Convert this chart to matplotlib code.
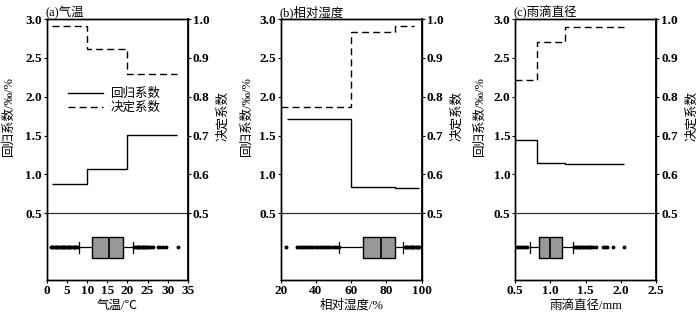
import numpy as np
import matplotlib.pyplot as plt
from matplotlib.lines import Line2D

plt.rcParams['font.family'] = ['Liberation Serif', 'Noto Sans CJK SC']
plt.rcParams['axes.unicode_minus'] = False

# step curves: bin edges and values (regression coef on left axis, R2 on right axis)
temp_edges = [1.2, 10, 20, 32.4]
temp_coef = [0.88, 1.07, 1.51]
temp_r2 = [0.983, 0.924, 0.858]

rh_coef_edges = [23.5, 60, 85, 98.3]
rh_coef = [1.71, 0.84, 0.83]
rh_r2_edges = [20.3, 60, 85, 95.5]
rh_r2 = [0.775, 0.968, 0.983]

dia_edges = [0.5, 0.81, 1.21, 2.05]
dia_coef = [1.44, 1.15, 1.13]
dia_r2 = [0.844, 0.941, 0.981]

# box plot summaries
temp_box = dict(whislo=7.9, q1=11.2, med=15.5, q3=18.8, whishi=21.4)
temp_fliers = [0.9, 1.3, 1.6, 1.9, 2.2, 2.5, 2.8, 3.1, 3.4, 3.7, 4.0, 4.3, 4.6, 4.9, 5.2, 5.5,
               5.8, 6.1, 6.4, 6.7, 7.0, 7.3, 7.6,
               21.7, 22.0, 22.3, 22.6, 22.9, 23.2, 23.5, 23.8, 24.1, 24.4, 24.7, 25.0, 25.4,
               25.8, 26.3, 27.6, 28.2, 28.8, 29.6, 32.6]
rh_box = dict(whislo=53.3, q1=66.7, med=77.1, q3=85.0, whishi=89.6)
rh_fliers = [23.2, 29.0, 30.2, 31.4, 32.6, 33.8, 35.0, 36.2, 37.4, 38.6, 39.8, 41.0, 42.2, 43.4,
             44.6, 45.8, 47.0, 48.2, 49.4, 50.6, 51.8, 52.8,
             90.3, 91.0, 91.7, 92.4, 93.1, 93.8, 94.5, 95.2, 95.9, 96.6, 97.3, 98.0, 98.6]
dia_box = dict(whislo=0.71, q1=0.84, med=1.0, q3=1.16, whishi=1.32)
dia_fliers = [0.52, 0.55, 0.58, 0.61, 0.64, 0.67,
              1.34, 1.36, 1.38, 1.40, 1.42, 1.44, 1.46, 1.48, 1.50, 1.52, 1.54, 1.56, 1.58,
              1.61, 1.64, 1.74, 1.77, 1.80, 1.89, 2.04]

titles = ['(a)气温', '(b)相对湿度', '(c)雨滴直径']
xlabels = ['气温/℃', '相对湿度/%', '雨滴直径/mm']
xlims = [(0, 35), (20, 100), (0.5, 2.5)]
xticks = [np.arange(0, 36, 5), np.arange(20, 101, 20), np.arange(0.5, 2.51, 0.5)]

panels = [
    (temp_edges, temp_coef, temp_edges, temp_r2, temp_box, temp_fliers),
    (rh_coef_edges, rh_coef, rh_r2_edges, rh_r2, rh_box, rh_fliers),
    (dia_edges, dia_coef, dia_edges, dia_r2, dia_box, dia_fliers),
]

fig = plt.figure(figsize=(7.0, 3.19), dpi=100)
lefts = [0.067, 0.401, 0.736]
ylab_x = [-0.225, -0.2, -0.21]
ylo = -0.36
tick_font = dict(fontsize=9.5, fontweight='bold')

for i, (ce, cv, re, rv, bstats, fl) in enumerate(panels):
    ax = fig.add_axes([lefts[i], 0.122, 0.2014, 0.818])
    ax2 = ax.twinx()

    ax.stairs(cv, ce, baseline=None, color='black', lw=1.0)
    ax2.stairs(rv, re, baseline=None, color='black', lw=1.0, linestyle=(0, (5, 3)))

    st = dict(bstats)
    st['fliers'] = fl
    ax.bxp([st], positions=[0.06], widths=0.26, orientation='horizontal',
           patch_artist=True, showfliers=True,
           boxprops=dict(facecolor='#999999', edgecolor='black', lw=1.0),
           medianprops=dict(color='black', lw=1.2),
           whiskerprops=dict(color='black', lw=0.9),
           capprops=dict(color='black', lw=0.9),
           flierprops=dict(marker='o', markersize=1.8, markerfacecolor='black',
                           markeredgecolor='black', linestyle='none'))

    ax.axhline(0.5, color='#333333', lw=0.9)
    ax.set_ylim(ylo, 3.0)
    ax2.set_ylim(0.5 + (ylo - 0.5) / 5, 1.0)
    ax.set_xlim(*xlims[i])
    ax.set_xticks(xticks[i])
    ax.set_yticks([0.5, 1.0, 1.5, 2.0, 2.5, 3.0])
    ax.set_yticklabels(['%.1f' % v for v in ax.get_yticks()], **tick_font)
    ax.set_xticklabels(['%g' % v if i != 2 else '%.1f' % v for v in xticks[i]], **tick_font)
    ax2.set_yticks([0.5, 0.6, 0.7, 0.8, 0.9, 1.0])
    ax2.set_yticklabels(['%.1f' % v for v in ax2.get_yticks()], **tick_font)

    for a in (ax, ax2):
        a.tick_params(direction='out', length=2.5, width=0.8, pad=1)
        for s in a.spines.values():
            s.set_linewidth(1.0)
    ax2.spines['right'].set_linewidth(1.3)

    ax.set_title(titles[i], loc='left', fontsize=9, pad=2, x=-0.01)
    ax.set_xlabel(xlabels[i], fontsize=9, labelpad=2)
    ax.set_ylabel('回归系数/‰/%', fontsize=9)
    ax.yaxis.set_label_coords(ylab_x[i], 0.628)
    ax2.set_ylabel('决定系数', fontsize=9)
    ax2.yaxis.set_label_coords(1.21, 0.628)

    if i == 0:
        handles = [Line2D([], [], color='black', lw=1.0),
                   Line2D([], [], color='black', lw=1.0, linestyle=(0, (5, 3)))]
        ax.legend(handles, ['回归系数', '决定系数'], loc='upper left',
                  bbox_to_anchor=(0.07, 0.78), frameon=False, fontsize=9,
                  handlelength=2.8, handletextpad=0.6, labelspacing=0.15)

fig.savefig('out.png', dpi=100)
